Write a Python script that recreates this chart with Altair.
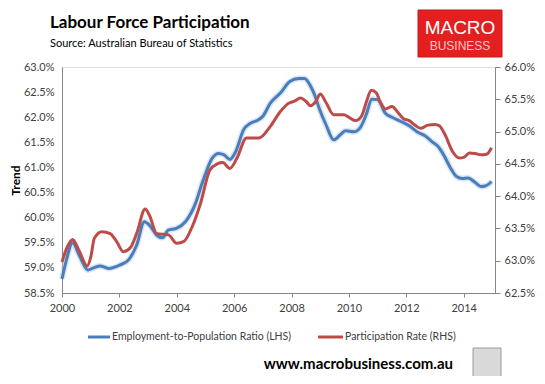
import altair as alt
import pandas as pd

EMP_NAME = "Employment-to-Population Ratio (LHS)"
PART_NAME = "Participation Rate (RHS)"

emp_years = [2000.0, 2000.15, 2000.37, 2000.6, 2000.9, 2001.1, 2001.33, 2001.62, 2002.03, 2002.32,
             2002.6, 2002.87, 2003.05, 2003.3, 2003.5, 2003.7, 2004.0, 2004.3, 2004.65, 2004.88,
             2005.05, 2005.23, 2005.46, 2005.65, 2005.85, 2006.05, 2006.33, 2006.57, 2006.82, 2007.0,
             2007.26, 2007.61, 2007.94, 2008.25, 2008.45, 2008.66, 2008.8, 2008.95, 2009.2, 2009.47,
             2009.7, 2009.88, 2010.17, 2010.4, 2010.6, 2010.8, 2011.0, 2011.27, 2011.5, 2011.8,
             2012.1, 2012.4, 2012.65, 2012.9, 2013.1, 2013.3, 2013.55, 2013.75, 2013.95, 2014.15,
             2014.4, 2014.6, 2014.75, 2014.97]
emp_values = [58.78, 59.15, 59.5, 59.25, 58.96, 59.0, 59.04, 58.99, 59.06, 59.16,
              59.45, 59.92, 59.85, 59.65, 59.6, 59.75, 59.79, 59.92, 60.28, 60.68,
              60.95, 61.18, 61.28, 61.25, 61.16, 61.31, 61.75, 61.88, 61.94, 62.02,
              62.28, 62.48, 62.71, 62.77, 62.77, 62.62, 62.45, 62.2, 61.85, 61.55,
              61.65, 61.73, 61.71, 61.8, 62.05, 62.36, 62.35, 62.08, 62.0, 61.92,
              61.83, 61.7, 61.63, 61.51, 61.42, 61.25, 60.98, 60.82, 60.78, 60.79,
              60.7, 60.62, 60.63, 60.72]

part_years = [2000.0, 2000.15, 2000.37, 2000.6, 2000.88, 2001.0, 2001.13, 2001.39, 2001.68, 2001.9,
              2002.14, 2002.38, 2002.6, 2002.9, 2003.05, 2003.3, 2003.71, 2004.0, 2004.25, 2004.54,
              2004.83, 2005.15, 2005.41, 2005.6, 2005.85, 2006.1, 2006.43, 2006.86, 2007.26, 2007.61,
              2007.9, 2008.1, 2008.31, 2008.5, 2008.66, 2008.85, 2009.0, 2009.2, 2009.47, 2009.82,
              2010.0, 2010.23, 2010.45, 2010.6, 2010.78, 2010.95, 2011.1, 2011.27, 2011.5, 2011.7,
              2011.9, 2012.1, 2012.3, 2012.5, 2012.75, 2013.0, 2013.15, 2013.35, 2013.6, 2013.85,
              2014.0, 2014.2, 2014.4, 2014.6, 2014.8, 2014.97]
part_values = [62.98, 63.18, 63.33, 63.15, 62.92, 63.05, 63.35, 63.45, 63.42, 63.3,
               63.14, 63.2, 63.42, 63.8, 63.7, 63.42, 63.4, 63.27, 63.3, 63.53,
               63.89, 64.4, 64.5, 64.52, 64.43, 64.59, 64.9, 64.9, 65.08, 65.31,
               65.44, 65.47, 65.52, 65.47, 65.4, 65.47, 65.58, 65.45, 65.26, 65.26,
               65.22, 65.17, 65.25, 65.45, 65.64, 65.6, 65.45, 65.35, 65.39, 65.3,
               65.2, 65.17, 65.1, 65.05, 65.1, 65.11, 65.09, 64.95, 64.7, 64.59,
               64.6, 64.67, 64.66, 64.64, 64.65, 64.75]

x_ticks = [2000, 2002, 2004, 2006, 2008, 2010, 2012, 2014]
left_ticks = [58.5, 59.0, 59.5, 60.0, 60.5, 61.0, 61.5, 62.0, 62.5, 63.0]
right_ticks = [62.5, 63.0, 63.5, 64.0, 64.5, 65.0, 65.5, 66.0]

BLUE = "#4A7EBB"
GLOW = "#B5CDEB"
RED = "#BE4B48"
FONT = "Lato"
GREY = "#868686"
LABEL = "#404040"

emp_df = pd.DataFrame({"year": emp_years, "value": emp_values, "series": EMP_NAME})
part_df = pd.DataFrame({"year": part_years, "value": part_values, "series": PART_NAME})

x_enc = alt.X("year:Q", scale=alt.Scale(domain=[2000, 2015.09], nice=False, zero=False),
              axis=alt.Axis(values=x_ticks, format="d", title=None, grid=False,
                            domainColor=GREY, tickColor=GREY, tickSize=4,
                            labelFontSize=11, labelColor=LABEL, labelFont=FONT,
                            labelPadding=5, labelFlush=False))

color_scale = alt.Scale(domain=[EMP_NAME, PART_NAME], range=[BLUE, RED])

left_scale = alt.Scale(domain=[58.5, 63.0], nice=False, zero=False)
right_scale = alt.Scale(domain=[62.5, 66.0], nice=False, zero=False)

left_axis = alt.Axis(values=left_ticks, labelExpr="format(datum.value, '.1f') + '%'",
                     title="Trend", titleFontSize=12, titleFont=FONT, titleFontWeight="bold",
                     titleColor="#000000", titlePadding=1, grid=False, tickSize=0,
                     domainColor=GREY, labelFontSize=11, labelColor=LABEL, labelFont=FONT,
                     labelPadding=8, labelFlush=False)

glow = alt.Chart(emp_df).mark_line(strokeWidth=6, color=GLOW, opacity=0.5,
                                   interpolate="monotone").encode(
    x=x_enc, y=alt.Y("value:Q", scale=left_scale, axis=left_axis))

blue = alt.Chart(emp_df).mark_line(strokeWidth=3, interpolate="monotone").encode(
    x=x_enc,
    y=alt.Y("value:Q", scale=left_scale, axis=left_axis),
    color=alt.Color("series:N", scale=color_scale, legend=None))

red = alt.Chart(part_df).mark_line(strokeWidth=3, interpolate="monotone").encode(
    x=x_enc,
    y=alt.Y("value:Q", scale=right_scale,
            axis=alt.Axis(orient="right", values=right_ticks,
                          labelExpr="format(datum.value, '.1f') + '%'", title=None, grid=False,
                          tickSize=5, tickColor=GREY, domainColor=GREY, labelFontSize=11,
                          labelColor=LABEL, labelFont=FONT, labelPadding=4, labelFlush=False)),
    color=alt.Color("series:N", scale=color_scale, legend=None))

one = pd.DataFrame({"k": [0]})


def label(text, x, y, size, weight="normal", color="#000000", align="left", font=FONT,
          baseline="alphabetic"):
    return alt.Chart(one).mark_text(text=text, fontSize=size, fontWeight=weight, color=color,
                                    align=align, baseline=baseline, font=font).encode(
        x=alt.value(x), y=alt.value(y))


def swatch(color, x1, x2, y):
    return alt.Chart(one).mark_rule(color=color, strokeWidth=3).encode(
        x=alt.value(x1), x2=alt.value(x2), y=alt.value(y))


leg_blue = swatch(BLUE, 26, 48, 270)
leg_blue_t = label(EMP_NAME, 50, 270, 10.5, color=LABEL, baseline="middle")
leg_red = swatch(RED, 256, 281, 270)
leg_red_t = label(PART_NAME, 283, 270, 10.5, color=LABEL, baseline="middle")

title = label("Labour Force Participation", -12, -39, 17, "bold")
subtitle = label("Source: Australian Bureau of Statistics", -12, -20, 11)
logo = alt.Chart(one).mark_rect(color="#E3201F", stroke="#C8181A", strokeWidth=1).encode(
    x=alt.value(356), x2=alt.value(440), y=alt.value(-57), y2=alt.value(-10))
macro = label("MACRO", 398, -33, 19, color="#FFFFFF", align="center", font="Liberation Sans")
business = label("BUSINESS", 398, -17, 12, color="#F6C4C4", align="center",
                 font="Liberation Sans")
url = label("www.macrobusiness.com.au", 391, 302, 15, "bold", align="right")
wolf = alt.Chart(one).mark_rect(color="#D9D9D9", stroke="#9A9A9A", strokeWidth=1).encode(
    x=alt.value(411), x2=alt.value(439), y=alt.value(281), y2=alt.value(314))

chart = alt.layer(
    alt.layer(glow, blue), red, leg_blue, leg_blue_t, leg_red, leg_red_t,
    title, subtitle, logo, macro, business, url, wolf
).resolve_scale(y="independent").properties(
    width=433, height=226,
    autosize=alt.AutoSizeParams(type="none"),
    padding={"left": 54, "top": 59, "right": 42, "bottom": 83},
).configure_view(fill="#F2F2F2", stroke=None).configure(background="#FFFFFF")

chart.save("out.html", embed_options={"renderer": "svg", "actions": False})
